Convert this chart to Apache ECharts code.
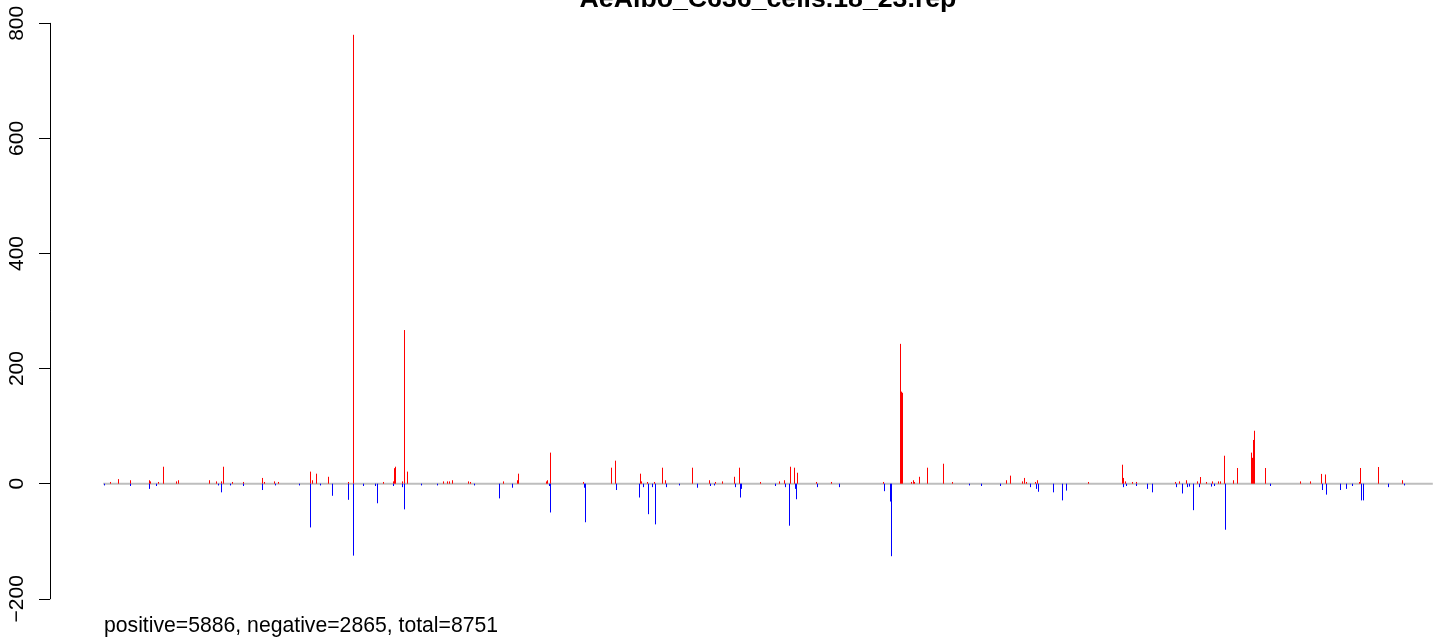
<!DOCTYPE html>
<html>
<head>
<meta charset="utf-8">
<script src="https://cdn.jsdelivr.net/npm/echarts@6/dist/echarts.min.js"></script>
<style>
html,body{margin:0;padding:0;background:#fff;}
#chart{width:1444px;height:643px;}
</style>
</head>
<body>
<div id="chart"></div>
<script>
const titleText = "AeAlbo_C636_cells.18_23.rep";
const footerText = "positive=5886, negative=2865, total=8751";
const totalCount = 8751;
const yTicks = [-200, 0, 200, 400, 600, 800];

// positive (red) bars: index along the sequence and value
const posIndex = [46,100,177,302,311,364,397,478,493,699,743,776,791,851,923,1048,1061,1127,1153,1364,1377,1403,1482,1614,1647,1844,1910,1917,1923,1969,1983,2002,2239,2266,2279,2298,2404,2417,2630,2726,2733,2915,2922,2943,3161,3345,3371,3536,3543,3582,3628,3681,3700,3878,3990,4029,4075,4154,4187,4325,4450,4483,4523,4549,4569,4694,4793,5135,5247,5254,5261,5319,5332,5339,5372,5424,5530,5589,5944,5971,6050,6063,6076,6135,6148,6484,6708,6715,6728,6773,6799,7056,7083,7129,7201,7221,7260,7300,7339,7352,7379,7438,7465,7557,7563,7570,7576,7649,7879,7945,8017,8044,8267,8274,8392,8550];
const posValue = [3,8,6,6,4,3,29.5,4,6,6,4,4,29.5,3,3,10,3,4,3,21,6,17.4,12,3,780,3,4,27,29.5,4,267,21,4,4,4,6,4,3,4,6,17.4,4,6,54,3,27.8,40,17.4,4,3,3,27.8,6,27.8,6,3,4,12,27.8,3,4,6,29.5,27.8,19,3,3,3,243,160,158,3,6,3,12,27.8,34.7,3,6,14,4,10,3,3,6,3,33,10,4,3,3,3,4,6,4,11.6,3,4,4,4,48.6,6,27.3,54,45,76,92,27.3,4,4,17,16,3,27.3,29,6];

// negative (blue) bars
const negIndex = [6,177,302,348,757,778,835,923,1048,1132,1290,1428,1364,1509,1614,1647,1713,1788,1805,1910,1969,1983,2094,2200,2443,2608,2693,2933,2943,3163,3174,3373,3529,3555,3584,3615,3630,3702,3792,3911,3992,4023,4156,4189,4200,4424,4485,4516,4551,4562,4696,4845,5137,5181,5188,5701,5780,5905,6102,6137,6150,6254,6313,6339,6710,6730,6801,6872,6905,7063,7102,7131,7148,7175,7215,7288,7314,7381,7682,8019,8046,8142,8182,8221,8276,8294,8458,8563];
const negValue = [-3,-4,-9,-4,-3,-15,-3,-4,-11,-3,-3,-3,-76,-21,-28,-125,-4,-4,-34,-4,-6,-44.6,-3,-3,-3,-25.5,-7,-4,-50,-7,-67,-11,-24,-6,-53,-6,-70.7,-6,-3,-7,-4,-3,-6,-24,-9,-4,-6,-73,-9,-27,-6,-6,-13,-31,-126,-3,-4,-4,-6,-9,-14,-15,-29,-12,-6,-4,-4,-9,-15,-6,-17,-6,-5,-46,-6,-5,-4,-80,-4,-11,-19,-11,-9,-4,-29,-29,-6,-3];

const posData = posIndex.map((x, i) => [x, posValue[i]]);
const negData = negIndex.map((x, i) => [x, negValue[i]]);

function renderSpike(params, api) {
  const x = api.value(0), y = api.value(1);
  const p0 = api.coord([x, 0]);
  const p1 = api.coord([x, y]);
  const px = Math.round(p0[0]) + 0.5;
  return {
    type: 'line',
    shape: { x1: px, y1: p0[1], x2: px, y2: p1[1] },
    style: { stroke: api.visual('color'), lineWidth: 1 }
  };
}

const pad = 0.04 * (totalCount - 1);
const chart = echarts.init(document.getElementById('chart'), null, { renderer: 'canvas' });
chart.setOption({
  animation: false,
  backgroundColor: '#ffffff',
  grid: { left: 50, top: 23.3, width: 1436, height: 575.5, containLabel: false, outerBoundsMode: 'none' },
  xAxis: {
    type: 'value', min: 1 - pad, max: totalCount + pad, show: false,
    splitLine: { show: false }
  },
  yAxis: {
    type: 'value', min: yTicks[0], max: yTicks[yTicks.length - 1], interval: 200,
    splitLine: { show: false },
    axisLine: { show: true, onZero: false, lineStyle: { color: '#000', width: 1 } },
    axisTick: { show: true, length: 11, lineStyle: { color: '#000', width: 1 } },
    axisLabel: {
      rotate: 90, color: '#000', fontSize: 21, margin: 22,
      fontFamily: 'Liberation Sans, Arial, sans-serif',
      formatter: v => (v < 0 ? '\u2212' + Math.abs(v) : String(v))
    }
  },
  graphic: [
    { type: 'text', x: 768, y: -14,
      style: { text: titleText, font: 'bold 26.7px "Liberation Sans", Arial, sans-serif', fill: '#000', textAlign: 'center' } },
    { type: 'text', x: 104, y: 616,
      style: { text: footerText, font: '21.2px "Liberation Sans", Arial, sans-serif', fill: '#000' } }
  ],
  series: [
    { type: 'line', data: [[1, 0], [totalCount, 0]], symbol: 'none', z: 1,
      lineStyle: { color: '#BEBEBE', width: 2 }, silent: true },
    { type: 'custom', renderItem: renderSpike, data: posData, itemStyle: { color: '#FF0000' }, z: 2,
      encode: { x: 0, y: 1 } },
    { type: 'custom', renderItem: renderSpike, data: negData, itemStyle: { color: '#0000FF' }, z: 2,
      encode: { x: 0, y: 1 } }
  ]
});
</script>
</body>
</html>
